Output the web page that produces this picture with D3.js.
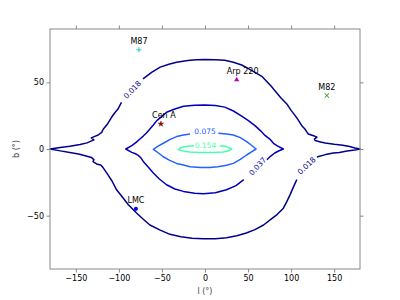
<!DOCTYPE html>
<html>
<head>
<meta charset="utf-8">
<script src="https://cdn.jsdelivr.net/npm/d3@7"></script>
<style>
  html, body { margin: 0; padding: 0; background: #fff; }
  svg { display: block; font-family: "DejaVu Sans", sans-serif; }
</style>
</head>
<body>
<svg id="chart" width="400" height="300"></svg>
<script>
// ---- data ----
const xTicks = [-150, -100, -50, 0, 50, 100, 150];
const yTicks = [-50, 0, 50];

const levels = ["0.018", "0.037", "0.075", "0.154"];
const levelColors = ["#00008c", "#0000b8", "#2462ff", "#48ffac"];

// contour segments [l, b] (broken where labels sit)
const contour018 = [
  [[-72,52.6],[-62,57.5],[-52,61.4],[-42,63.5],[-33,65],[-20,66.3],[-10,67],[0,67.2],[12,67],[23,66.5],[33,65],[42.6,63],[50,60.5],[58,57.5],[66,54.5],[72,50.5],[77,47],[81,43.8],[88,38.5],[95,33.8],[100,29],[104.7,25],[108,22],[110,20],[113,17],[116,15],[118,13],[120,11.3],[126,10],[130,8.8],[127,7.5],[128,6.3],[133,5.5],[139.5,4.5],[150,3.5],[160,2.8],[168,1.8],[174,0.8],[180,0],[174,-0.7],[165,-1.5],[156,-2.6],[149,-3],[140,-4.2],[130,-6]],
  [[106.6,-23],[103,-28],[99,-34],[95,-39.5],[91,-44.4],[84,-49],[76,-53],[68,-57],[58,-60.5],[48,-63],[37,-65],[25,-66.5],[12,-67.3],[-2,-67.4],[-15,-67],[-28,-65.8],[-40.7,-64],[-52,-60.8],[-64,-57],[-72,-52.5],[-79.5,-48],[-85,-44.5],[-89,-41.8],[-96,-36],[-102.7,-30.6],[-108,-24],[-113,-19],[-118,-14.3],[-121,-12],[-125,-11.5],[-130,-9.5],[-129,-8],[-132,-6.3],[-138,-5.3],[-147,-3.8],[-157,-2.6],[-168,-1.4],[-180,0],[-168,1.2],[-157,2],[-145,3.3],[-137,4.6],[-129,6.8],[-132,8.3],[-128,9.5],[-124,10.5],[-120,12.5],[-118,15],[-113,19],[-108.5,23.8],[-105,27],[-101,30],[-99,32.5],[-97,35]]
];
const contour037 = [
  [[72,-8],[76,-5.5],[81,-3],[86,-1.3],[91,0],[84,2.3],[79.5,4.3],[76,7],[70,10],[64,14],[58,17.5],[50,21.5],[42.6,24.6],[33,28.5],[23,31.4],[12,32.6],[0,33],[-12,32.8],[-25,32],[-35,30],[-44.6,27.6],[-50,24.5],[-56,21.3],[-60,18],[-64,15],[-68,12],[-72,9.5],[-75.6,7.5],[-80,5],[-85,2.5],[-92,0],[-85,-2.5],[-80,-3.8],[-77.5,-4.8],[-74,-7],[-71.7,-9.3],[-66,-13.5],[-60,-18],[-53,-22.5],[-44.6,-26.8],[-35,-30],[-25,-31.8],[-12,-33.2],[-2,-33.6],[12,-32.8],[25,-30.6],[36,-27.5],[45,-23]]
];
const contour075 = [
  [[15.5,11.8],[25,11.3],[33,10.5],[41,8.5],[48.4,5.5],[54,2.8],[59.3,0],[54,-2.2],[48.4,-4.5],[41,-7.8],[33,-10.8],[25,-12.2],[15,-13.3],[5.8,-13.8],[-5,-13.8],[-17.4,-13.3],[-25,-12],[-33,-10.8],[-41,-8.5],[-48.4,-5.8],[-54,-3],[-60,-0.3],[-54,2.3],[-48.4,4.3],[-41,7],[-33,9.3],[-25,10.5],[-17.4,11.3]]
];
const contour154 = [
  [[17,2.4],[25,1.8],[31,0],[27,-1.5],[21,-2.2],[10,-2.6],[2,-2.7],[-8,-2.6],[-17.4,-2.3],[-25,-1.6],[-31,-0.5],[-29,0.8],[-25,1.5],[-17.4,2.3],[-13,2.5]]
];
const contourSets = [contour018, contour037, contour075, contour154];

// contour labels: level index, l, b, angle
const labelLevel = [0, 0, 1, 2, 3];
const labelL = [-84.5, 118, 61, 0, 0.5];
const labelB = [44.5, -12.5, -13, 13.5, 2.6];
const labelAngle = [-46, -43, -47, 0, 0];

// sources
const srcNames = ["M87", "Cen A", "Arp 220", "M82", "LMC"];
const srcL = [-76.7, -51.2, 36.8, 141.5, -80.2];
const srcB = [74.4, 18.8, 52.0, 40.1, -44.9];
const srcSymbols = ["plus", "star", "triangle", "cross", "circle"];
const srcColors = ["#00bfbf", "#c00000", "#bf00bf", "#008000", "#0000ff"];

// ---- drawing ----
const svg = d3.select("#chart");
const margin = {left: 50, right: 40, top: 29, bottom: 31};
const W = 400, H = 300;
const x = d3.scaleLinear().domain([-180, 180]).range([margin.left, W - margin.right]);
const y = d3.scaleLinear().domain([-90, 90]).range([H - margin.bottom, margin.top]);

svg.append("rect").attr("width", W).attr("height", H).attr("fill", "#fff");

const line = d3.line().x(d => x(d[0])).y(d => y(d[1]));

contourSets.forEach((segs, i) => {
  segs.forEach(seg => {
    svg.append("path").attr("d", line(seg))
      .attr("fill", "none").attr("stroke", levelColors[i])
      .attr("stroke-width", 1.5).attr("stroke-linejoin", "round");
  });
});

labelLevel.forEach((li, k) => {
  svg.append("text")
    .attr("transform", `translate(${x(labelL[k])},${y(labelB[k])}) rotate(${labelAngle[k]})`)
    .attr("text-anchor", "middle").attr("dy", "0.35em")
    .attr("font-size", 7.5).attr("fill", levelColors[li])
    .text(levels[li]);
});

// markers
const symMap = {
  star: d3.symbolStar, triangle: d3.symbolTriangle, circle: d3.symbolCircle
};
const symSize = {star: 9, triangle: 12, circle: 13};
srcNames.forEach((n, i) => {
  const s = srcSymbols[i];
  const g = svg.append("g").attr("transform", `translate(${x(srcL[i])},${y(srcB[i])})`);
  if (s === "plus" || s === "cross") {
    const r = s === "plus" ? 2.5 : 2.2;
    const p = s === "plus"
      ? `M${-r},0H${r}M0,${-r}V${r}`
      : `M${-r},${-r}L${r},${r}M${-r},${r}L${r},${-r}`;
    g.append("path").attr("d", p).attr("stroke", srcColors[i]).attr("stroke-width", 0.9).attr("fill", "none");
  } else {
    g.append("path").attr("d", d3.symbol().type(symMap[s]).size(symSize[s])())
      .attr("fill", srcColors[i]).attr("stroke", s === "star" ? "#400" : "none").attr("stroke-width", 0.4);
  }
  svg.append("text").attr("x", x(srcL[i]) + (i === 2 ? 6 : (i === 1 ? 3 : 0)))
    .attr("y", y(srcB[i]) - 6).attr("text-anchor", "middle")
    .attr("font-size", 8).attr("fill", "#000").text(n);
});

// frame
const plotW = W - margin.left - margin.right, plotH = H - margin.top - margin.bottom;
svg.append("rect").attr("x", margin.left).attr("y", margin.top)
  .attr("width", plotW).attr("height", plotH)
  .attr("fill", "none").attr("stroke", "#888").attr("stroke-width", 1);

const fmt = d => d < 0 ? "\u2212" + Math.abs(d) : String(d);
const styleAxis = g => {
  g.select(".domain").remove();
  g.selectAll(".tick line").attr("stroke", "#888");
  g.selectAll(".tick text").attr("fill", "#000").attr("font-size", 8).attr("font-family", "DejaVu Sans, sans-serif");
};
svg.append("g").attr("transform", `translate(0,${H - margin.bottom})`)
  .call(d3.axisBottom(x).tickValues(xTicks).tickFormat(fmt).tickSize(3.5).tickPadding(2.5)).call(styleAxis);
svg.append("g").attr("transform", `translate(0,${margin.top})`)
  .call(d3.axisTop(x).tickValues(xTicks).tickFormat("").tickSize(3.5)).call(styleAxis);
svg.append("g").attr("transform", `translate(${margin.left},0)`)
  .call(d3.axisLeft(y).tickValues(yTicks).tickFormat(fmt).tickSize(3.5).tickPadding(2.5)).call(styleAxis);
svg.append("g").attr("transform", `translate(${W - margin.right},0)`)
  .call(d3.axisRight(y).tickValues(yTicks).tickFormat("").tickSize(3.5)).call(styleAxis);

svg.append("text").attr("x", 205).attr("y", 294).attr("text-anchor", "middle")
  .attr("font-size", 8).attr("fill", "#444").text("l (°)");
svg.append("text").attr("transform", `translate(19,149) rotate(-90)`).attr("text-anchor", "middle")
  .attr("font-size", 8).attr("fill", "#444").text("b (°)");
</script>
</body>
</html>
